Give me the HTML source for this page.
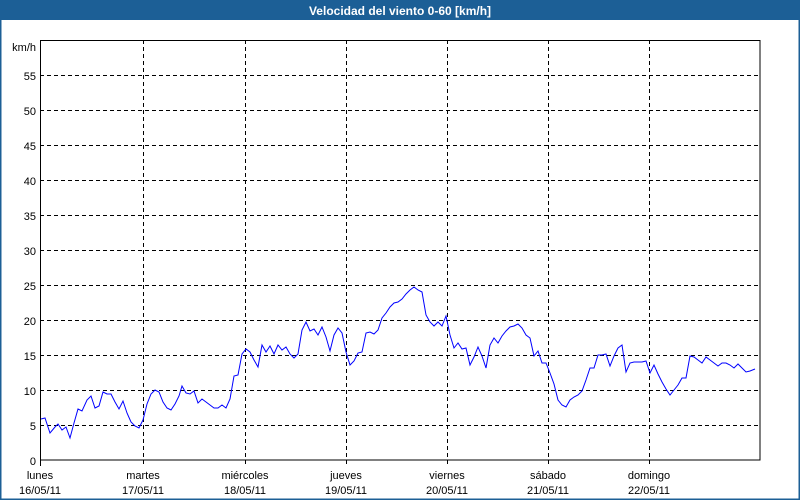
<!DOCTYPE html>
<html><head><meta charset="utf-8"><style>
html,body{margin:0;padding:0;background:#fff}
svg{display:block}
text{font-family:"Liberation Sans","DejaVu Sans",sans-serif;font-size:11px;fill:#000}
</style></head><body>
<svg width="800" height="500" viewBox="0 0 800 500">
<rect x="0" y="0" width="800" height="500" fill="#fff"/>
<rect x="0.5" y="0.5" width="799" height="499" fill="none" stroke="#1c5f96" stroke-width="2"/>
<rect x="0" y="0" width="800" height="20" fill="#1c5f96"/>
<text x="400" y="15" text-anchor="middle" style="fill:#fff;font-weight:bold;font-size:12px">Velocidad del viento 0-60 [km/h]</text>
<g stroke="#000" stroke-dasharray="4,3" stroke-width="1">
<line x1="40" y1="75.5" x2="760" y2="75.5"/><line x1="40" y1="110.5" x2="760" y2="110.5"/>
<line x1="40" y1="145.5" x2="760" y2="145.5"/><line x1="40" y1="180.5" x2="760" y2="180.5"/>
<line x1="40" y1="215.5" x2="760" y2="215.5"/><line x1="40" y1="250.5" x2="760" y2="250.5"/>
<line x1="40" y1="285.5" x2="760" y2="285.5"/><line x1="40" y1="320.5" x2="760" y2="320.5"/>
<line x1="40" y1="355.5" x2="760" y2="355.5"/><line x1="40" y1="390.5" x2="760" y2="390.5"/>
<line x1="40" y1="425.5" x2="760" y2="425.5"/>
<line x1="143.5" y1="40" x2="143.5" y2="466"/><line x1="245.5" y1="40" x2="245.5" y2="466"/>
<line x1="346.5" y1="40" x2="346.5" y2="466"/><line x1="447.5" y1="40" x2="447.5" y2="466"/>
<line x1="548.5" y1="40" x2="548.5" y2="466"/><line x1="649.5" y1="40" x2="649.5" y2="466"/>
</g>
<rect x="40.5" y="40.5" width="719.5" height="419.5" fill="none" stroke="#000" stroke-width="1"/>
<line x1="40.5" y1="460" x2="40.5" y2="466" stroke="#000"/>
<g text-anchor="end">
<text x="36" y="51">km/h</text>
<text x="36" y="80">55</text><text x="36" y="115">50</text><text x="36" y="150">45</text>
<text x="36" y="185">40</text><text x="36" y="220">35</text><text x="36" y="255">30</text>
<text x="36" y="290">25</text><text x="36" y="325">20</text><text x="36" y="360">15</text>
<text x="36" y="395">10</text><text x="36" y="430">5</text><text x="36" y="465">0</text>
</g>
<g text-anchor="middle">
<text x="40" y="479">lunes</text><text x="40" y="494">16/05/11</text>
<text x="143" y="479">martes</text><text x="143" y="494">17/05/11</text>
<text x="245" y="479">miércoles</text><text x="245" y="494">18/05/11</text>
<text x="346" y="479">jueves</text><text x="346" y="494">19/05/11</text>
<text x="447" y="479">viernes</text><text x="447" y="494">20/05/11</text>
<text x="548" y="479">sábado</text><text x="548" y="494">21/05/11</text>
<text x="649" y="479">domingo</text><text x="649" y="494">22/05/11</text>
</g>
<polyline fill="none" stroke="#0000ff" stroke-width="1" points="41,419 45,418 50,433 55,427 58,424 62,430 66,427 70,438 74,423 78,409 82,411 87,400 91,396 95,408 99,406 103,392 107,394 111,394 115,402 119,409 123,401 127,413 131,422 135,426 139,428 143,420 147,404 151,394 155,390 159,392 163,402 167,408 171,410 175,404 179,396 182,386 186,393 190,394 194,391 198,403 202,399 206,402 210,405 214,408 218,408 222,405 226,408 230,399 234,376 238,375 242,354 246,349 250,352 254,360 258,367 262,345 266,352 270,346 274,354 278,345 282,350 286,347 290,354 294,358 298,354 302,330 306,322 310,331 314,329 318,335 322,327 326,337 330,351 334,335 338,328 342,333 346,352 350,365 354,361 358,353 362,352 366,333 370,332 374,334 378,330 382,318 386,313 390,307 394,303 398,302 402,299 406,294 410,290 414,287 418,290 422,292 426,315 430,322 434,326 438,322 442,326 446,316 450,335 454,348 458,343 462,349 466,348 470,365 474,357 478,347 482,356 486,368 490,345 494,338 498,343 502,336 506,331 510,327 514,326 518,324 522,328 526,335 530,338 534,356 538,351 542,363 546,363 550,373 554,384 558,400 562,405 566,407 570,400 574,397 578,395 582,391 586,380 590,368 594,368 598,355 602,355 606,354 610,366 614,356 618,348 622,345 626,372 630,363 634,362 638,362 642,362 646,361 650,373 654,365 658,374 662,382 666,389 670,395 674,390 678,385 682,378 686,378 690,356 694,357 698,360 702,363 706,357 710,360 714,363 718,366 722,363 726,363 730,365 734,368 738,364 742,368 746,372 750,371 755,369"/>
</svg>
</body></html>
